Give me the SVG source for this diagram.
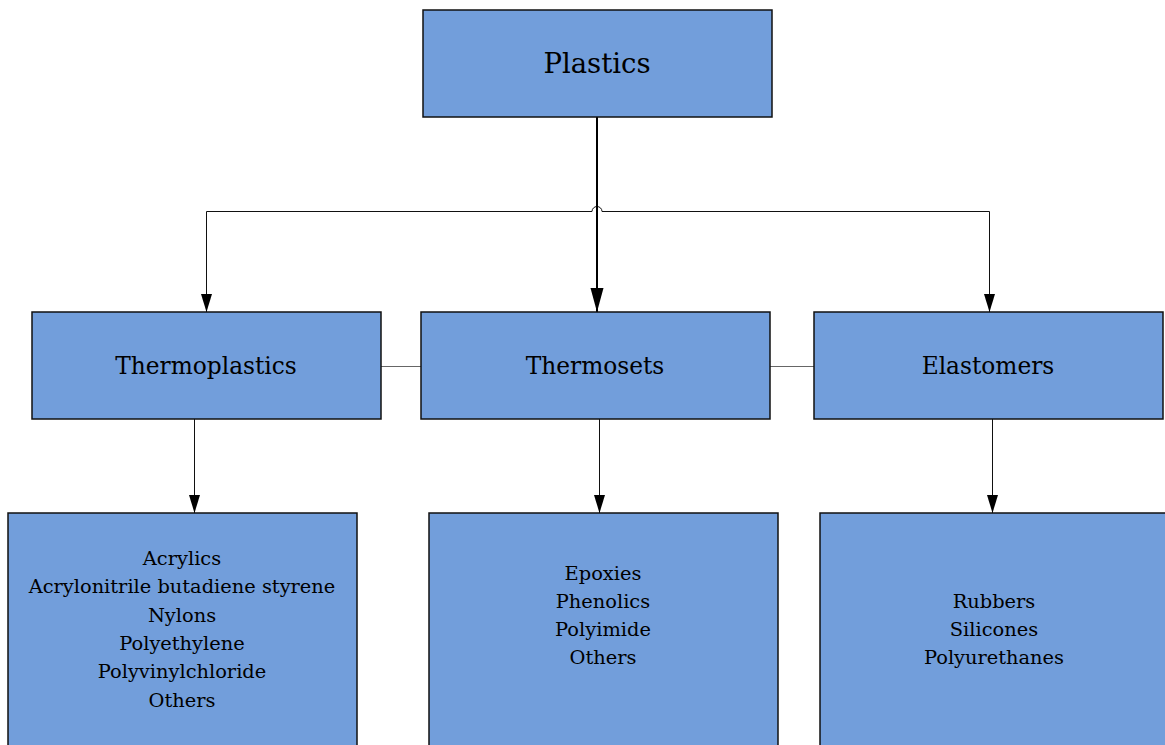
<svg xmlns="http://www.w3.org/2000/svg" width="1165" height="745" viewBox="0 0 1165 745">
<style>
.box{fill:#729edb;stroke:#111;stroke-width:1.5}
.t{font-family:"DejaVu Serif","Liberation Serif",serif;fill:#000;text-anchor:middle}
.big{font-size:27.5px}
.mid{font-size:23.3px}
.sm{font-size:19.4px}
.c{fill:none;stroke:#111;stroke-width:1}
</style>
<defs>
<marker id="ah" viewBox="0 0 18 12" refX="18" refY="6" markerWidth="18" markerHeight="12" markerUnits="userSpaceOnUse" orient="auto">
<path d="M0,0.5 L18,6 L0,11.5 Z" fill="#000"/>
</marker>
<marker id="ahb" viewBox="0 0 24 14" refX="24" refY="7" markerWidth="24" markerHeight="14" markerUnits="userSpaceOnUse" orient="auto">
<path d="M0,0.5 L24,7 L0,13.5 Z" fill="#000"/>
</marker>
</defs>
<rect width="1165" height="745" fill="#fff"/>
<g id="connectors">
<path class="c" d="M592,211.5 H206.5 V312" marker-end="url(#ah)"/>
<path class="c" d="M592,211.5 A5,5 0 0 1 602,211.5 H989.5 V312" marker-end="url(#ah)"/>
<path d="M597,117 V312" fill="none" stroke="#000" stroke-width="2" marker-end="url(#ahb)"/>
<path d="M381,366.5 H421 M770,366.5 H814" fill="none" stroke="#666" stroke-width="1"/>
<path class="c" d="M194.5,419 V513" marker-end="url(#ah)"/>
<path class="c" d="M599.5,419 V513" marker-end="url(#ah)"/>
<path class="c" d="M992.5,419 V513" marker-end="url(#ah)"/>
</g>
<g id="plastics">
<rect class="box" x="423" y="10" width="349" height="107"/>
<text class="t big" x="597" y="73">Plastics</text>
</g>
<g id="thermoplastics">
<rect class="box" x="32" y="312" width="349" height="107"/>
<text class="t mid" x="206" y="374">Thermoplastics</text>
</g>
<g id="thermosets">
<rect class="box" x="421" y="312" width="349" height="107"/>
<text class="t mid" x="595" y="374">Thermosets</text>
</g>
<g id="elastomers">
<rect class="box" x="814" y="312" width="349" height="107"/>
<text class="t mid" x="988" y="374">Elastomers</text>
</g>
<g id="thermoplastics-list">
<rect class="box" x="8" y="513" width="349" height="240"/>
<text class="t sm" x="182" y="565">Acrylics</text>
<text class="t sm" x="182" y="593">Acrylonitrile butadiene styrene</text>
<text class="t sm" x="182" y="622">Nylons</text>
<text class="t sm" x="182" y="650">Polyethylene</text>
<text class="t sm" x="182" y="678">Polyvinylchloride</text>
<text class="t sm" x="182" y="707">Others</text>
</g>
<g id="thermosets-list">
<rect class="box" x="429" y="513" width="349" height="240"/>
<text class="t sm" x="603" y="580">Epoxies</text>
<text class="t sm" x="603" y="608">Phenolics</text>
<text class="t sm" x="603" y="636">Polyimide</text>
<text class="t sm" x="603" y="664">Others</text>
</g>
<g id="elastomers-list">
<rect class="box" x="820" y="513" width="349" height="240"/>
<text class="t sm" x="994" y="608">Rubbers</text>
<text class="t sm" x="994" y="636">Silicones</text>
<text class="t sm" x="994" y="664">Polyurethanes</text>
</g>
</svg>
